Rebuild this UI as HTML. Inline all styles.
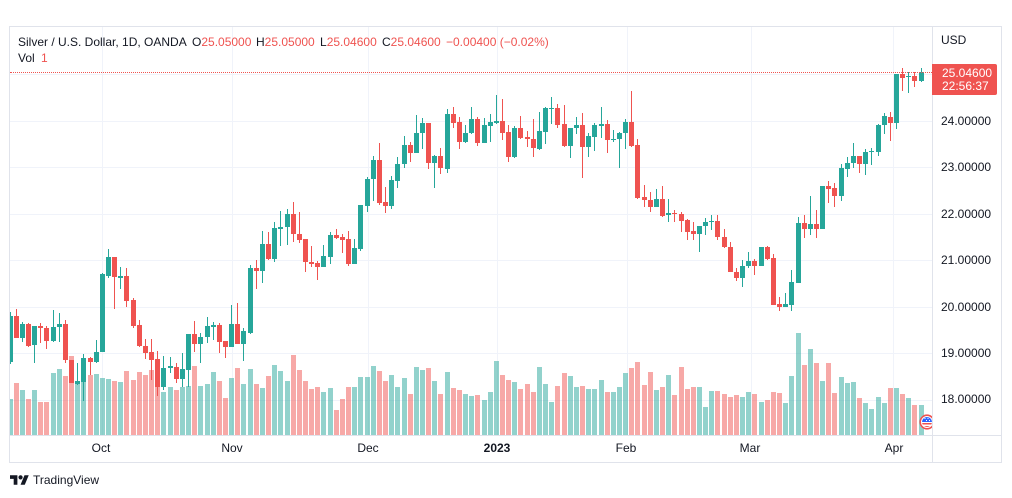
<!DOCTYPE html>
<html><head><meta charset="utf-8">
<style>
*{margin:0;padding:0}
body{width:1012px;height:498px;background:#fff;position:relative;overflow:hidden;font-family:"Liberation Sans",sans-serif;color:#131722;font-size:12px}
.frame{position:absolute;left:9px;top:26px;width:993px;height:437px;box-sizing:border-box;border:1px solid #e0e3eb}
.vsep{position:absolute;left:932px;top:27px;width:1px;height:435px;background:#e0e3eb}
.hsep{position:absolute;left:10px;top:435px;width:991px;height:1px;background:#e0e3eb}
.plot{position:absolute;left:10px;top:27px;width:922px;height:408px;overflow:hidden}
.gh{position:absolute;left:0;width:922px;height:1px;background:#f0f3fa}
.gv{position:absolute;top:0;width:1px;height:408px;background:#f0f3fa}
.bars{position:absolute;left:-3.085px;top:0;height:408px;display:flex}
.bars i{position:relative;flex:0 0 6.17px;width:6.17px;height:408px;background-image:linear-gradient(var(--vc),var(--vc));background-repeat:no-repeat;background-position:center bottom;background-size:5px calc((435 - var(--v)) * 1px)}
.bars i::before{content:"";position:absolute;left:calc(50% - 0.5px);width:1px;top:calc((var(--h) - 27) * 1px);height:calc((var(--l) - var(--h)) * 1px);background:var(--c)}
.bars i::after{content:"";position:absolute;left:calc(50% - 2.5px);width:5px;top:calc((var(--t) - 27) * 1px);height:max(1px, calc((var(--b) - var(--t)) * 1px));background:var(--c)}
.T{--c:#26a69a;--vc:rgba(38,166,154,.5)}
.R{--c:#ef5350;--vc:rgba(239,83,80,.5)}
.dot{position:absolute;left:0;top:45px;width:922px;height:0;border-top:1px dotted #ef5350}
.leg{position:absolute;left:18px;white-space:nowrap;line-height:16px;font-size:12px}
.red{color:#ef5350}
.pl{position:absolute;left:941px;line-height:14px;font-size:12px;color:#131722}
.tl{position:absolute;top:441px;width:60px;text-align:center;line-height:14px;font-size:12px;color:#131722}
.pbox{position:absolute;left:932px;top:64px;width:65px;height:31px;background:#ef5350;border-radius:0 2px 2px 0;color:#fff;font-size:12px;line-height:13.4px;box-sizing:border-box;padding:3px 0 0 10px}
</style></head><body>
<div class="frame"></div>
<div class="plot">
<div class="gh" style="top:47px"></div>
<div class="gh" style="top:94px"></div>
<div class="gh" style="top:140px"></div>
<div class="gh" style="top:187px"></div>
<div class="gh" style="top:233px"></div>
<div class="gh" style="top:280px"></div>
<div class="gh" style="top:326px"></div>
<div class="gh" style="top:373px"></div>
<div class="gv" style="left:92px"></div>
<div class="gv" style="left:222px"></div>
<div class="gv" style="left:358px"></div>
<div class="gv" style="left:487px"></div>
<div class="gv" style="left:617px"></div>
<div class="gv" style="left:741px"></div>
<div class="gv" style="left:883px"></div>
<div class="bars">
<i class=T style="--t:316;--b:362;--h:312;--l:364;--v:399"></i>
<i class=R style="--t:316;--b:338;--h:309;--l:338;--v:383"></i>
<i class=T style="--t:324;--b:338;--h:322;--l:342;--v:390"></i>
<i class=R style="--t:324;--b:346;--h:323;--l:347;--v:399"></i>
<i class=T style="--t:326;--b:345;--h:326;--l:363;--v:390"></i>
<i class=R style="--t:325.7;--b:328.3;--h:323;--l:343;--v:402"></i>
<i class=R style="--t:327.7;--b:340.7;--h:326;--l:349;--v:402"></i>
<i class=T style="--t:327;--b:340.7;--h:310;--l:341.7;--v:373"></i>
<i class=T style="--t:324.3;--b:327.3;--h:313.3;--l:341.7;--v:369"></i>
<i class=R style="--t:324;--b:360;--h:320;--l:363;--v:376"></i>
<i class=R style="--t:360;--b:383.3;--h:360;--l:383.3;--v:356"></i>
<i class=T style="--t:381;--b:384;--h:362.7;--l:385;--v:384"></i>
<i class=T style="--t:358.3;--b:381.7;--h:354;--l:401;--v:365"></i>
<i class=R style="--t:358.3;--b:361.7;--h:356.7;--l:375;--v:375"></i>
<i class=T style="--t:352.3;--b:361.7;--h:340;--l:363.3;--v:374"></i>
<i class=T style="--t:274;--b:352.3;--h:273;--l:352.3;--v:378"></i>
<i class=T style="--t:257.3;--b:276;--h:249.3;--l:277.7;--v:379"></i>
<i class=R style="--t:257.3;--b:277.3;--h:257.3;--l:309.3;--v:381"></i>
<i class=T style="--t:276;--b:277.7;--h:266.7;--l:289.3;--v:382"></i>
<i class=R style="--t:276;--b:300.7;--h:268.3;--l:306.7;--v:371"></i>
<i class=R style="--t:300;--b:326;--h:298;--l:328;--v:380"></i>
<i class=R style="--t:325;--b:346;--h:320;--l:347.3;--v:372"></i>
<i class=R style="--t:346;--b:352.7;--h:339;--l:359.3;--v:375"></i>
<i class=R style="--t:352.3;--b:360;--h:339.3;--l:380;--v:370"></i>
<i class=R style="--t:359.3;--b:387.3;--h:350.7;--l:396;--v:375"></i>
<i class=T style="--t:368.3;--b:387.3;--h:356;--l:390;--v:392"></i>
<i class=T style="--t:366;--b:368.3;--h:357.3;--l:373.3;--v:387"></i>
<i class=R style="--t:366.7;--b:379.3;--h:362.7;--l:382.7;--v:390"></i>
<i class=T style="--t:369.3;--b:379.3;--h:353.3;--l:386.7;--v:387"></i>
<i class=T style="--t:334;--b:370;--h:334;--l:386.7;--v:386"></i>
<i class=R style="--t:334;--b:344;--h:321;--l:351.7;--v:366"></i>
<i class=T style="--t:337.3;--b:344;--h:333.3;--l:362.7;--v:386"></i>
<i class=T style="--t:326;--b:337.3;--h:317.3;--l:342.7;--v:384"></i>
<i class=T style="--t:325;--b:326.7;--h:321.7;--l:340;--v:372"></i>
<i class=R style="--t:325;--b:341.7;--h:323.3;--l:352.7;--v:381"></i>
<i class=R style="--t:341;--b:346.7;--h:341;--l:357.7;--v:398"></i>
<i class=T style="--t:324;--b:346.7;--h:305;--l:346.7;--v:378"></i>
<i class=R style="--t:324;--b:344;--h:303.3;--l:344;--v:368"></i>
<i class=T style="--t:330.7;--b:344;--h:328.3;--l:360.7;--v:384"></i>
<i class=T style="--t:268.3;--b:332.7;--h:265;--l:334;--v:369"></i>
<i class=R style="--t:268.3;--b:270.7;--h:260;--l:288.7;--v:384"></i>
<i class=T style="--t:244;--b:270.7;--h:231;--l:283.3;--v:388"></i>
<i class=R style="--t:244;--b:259.3;--h:232;--l:260;--v:376"></i>
<i class=T style="--t:228.3;--b:259.3;--h:222.3;--l:261.7;--v:365"></i>
<i class=T style="--t:227.3;--b:229;--h:211;--l:246;--v:371"></i>
<i class=T style="--t:214;--b:227.3;--h:209.3;--l:245;--v:381"></i>
<i class=R style="--t:214;--b:234.3;--h:201.7;--l:241.7;--v:355"></i>
<i class=R style="--t:234;--b:240;--h:211.7;--l:242.7;--v:370"></i>
<i class=R style="--t:239;--b:262.3;--h:239;--l:271.7;--v:381"></i>
<i class=R style="--t:262;--b:263.5;--h:246;--l:267.3;--v:389"></i>
<i class=R style="--t:263;--b:267.3;--h:260.7;--l:280;--v:387"></i>
<i class=T style="--t:256;--b:267.3;--h:245;--l:267.3;--v:392"></i>
<i class=T style="--t:235;--b:256.7;--h:231.7;--l:264;--v:388"></i>
<i class=R style="--t:235;--b:237.7;--h:229.3;--l:239.3;--v:410"></i>
<i class=R style="--t:237.3;--b:240;--h:234;--l:253.3;--v:399"></i>
<i class=R style="--t:239.3;--b:264.3;--h:231.3;--l:265.7;--v:387"></i>
<i class=T style="--t:248.3;--b:263.7;--h:239.3;--l:264.3;--v:387"></i>
<i class=T style="--t:205;--b:249;--h:205;--l:250.7;--v:377"></i>
<i class=T style="--t:179;--b:205.7;--h:177.3;--l:211.7;--v:377"></i>
<i class=T style="--t:160;--b:179.3;--h:156;--l:201;--v:366"></i>
<i class=R style="--t:160;--b:202.7;--h:143.3;--l:205;--v:371"></i>
<i class=R style="--t:202.3;--b:205.7;--h:186.7;--l:212.7;--v:381"></i>
<i class=T style="--t:180;--b:205.7;--h:176;--l:209;--v:375"></i>
<i class=T style="--t:164;--b:180.7;--h:157.3;--l:187.7;--v:387"></i>
<i class=T style="--t:145;--b:164;--h:136;--l:168.3;--v:378"></i>
<i class=R style="--t:145;--b:153.3;--h:142;--l:162;--v:394"></i>
<i class=T style="--t:133.3;--b:153.3;--h:115;--l:153.3;--v:367"></i>
<i class=T style="--t:122.7;--b:133.3;--h:118.3;--l:148.7;--v:370"></i>
<i class=R style="--t:122.7;--b:163.3;--h:122.7;--l:168.7;--v:368"></i>
<i class=T style="--t:156;--b:163.3;--h:155;--l:187.7;--v:381"></i>
<i class=R style="--t:156;--b:168.3;--h:148.3;--l:174.3;--v:394"></i>
<i class=T style="--t:114;--b:169;--h:109.3;--l:172.7;--v:372"></i>
<i class=R style="--t:114;--b:122.7;--h:106.7;--l:128.3;--v:388"></i>
<i class=R style="--t:122.3;--b:141.7;--h:117.3;--l:149.3;--v:390"></i>
<i class=T style="--t:133.3;--b:141.7;--h:125;--l:143.3;--v:394"></i>
<i class=T style="--t:119;--b:133.3;--h:107.3;--l:134.3;--v:396"></i>
<i class=R style="--t:119;--b:142.7;--h:117.3;--l:145.7;--v:395"></i>
<i class=T style="--t:125;--b:142.7;--h:118.3;--l:142.7;--v:400"></i>
<i class=T style="--t:122.3;--b:125.7;--h:114.3;--l:142.3;--v:392"></i>
<i class=T style="--t:121;--b:122.7;--h:95;--l:124;--v:361"></i>
<i class=R style="--t:121;--b:132.7;--h:99;--l:140;--v:375"></i>
<i class=R style="--t:132;--b:156.7;--h:125;--l:161.7;--v:380"></i>
<i class=T style="--t:127.7;--b:156.7;--h:125.7;--l:157.7;--v:382"></i>
<i class=R style="--t:127.7;--b:137.7;--h:116;--l:139.3;--v:389"></i>
<i class=R style="--t:136.7;--b:139.3;--h:131;--l:146.7;--v:384"></i>
<i class=R style="--t:139;--b:148.3;--h:119;--l:156.7;--v:392"></i>
<i class=T style="--t:131;--b:149;--h:112.3;--l:150;--v:367"></i>
<i class=T style="--t:107.7;--b:131.7;--h:106.7;--l:144.3;--v:384"></i>
<i class=T style="--t:107.7;--b:109;--h:97;--l:124.3;--v:402"></i>
<i class=R style="--t:107.7;--b:125;--h:104.3;--l:128.3;--v:386"></i>
<i class=R style="--t:124.3;--b:146;--h:105;--l:147.3;--v:373"></i>
<i class=T style="--t:127.7;--b:146;--h:127.7;--l:158.3;--v:376"></i>
<i class=T style="--t:125;--b:128.3;--h:117.3;--l:134.3;--v:387"></i>
<i class=R style="--t:125;--b:146.7;--h:113.3;--l:177.7;--v:386"></i>
<i class=T style="--t:136;--b:146.7;--h:133.3;--l:156.7;--v:389"></i>
<i class=T style="--t:125;--b:136.7;--h:123.3;--l:151;--v:389"></i>
<i class=T style="--t:124.3;--b:125.7;--h:107;--l:138.3;--v:380"></i>
<i class=R style="--t:124;--b:140;--h:120;--l:153.3;--v:392"></i>
<i class=T style="--t:139;--b:140;--h:130;--l:141.7;--v:392"></i>
<i class=T style="--t:133.3;--b:139.3;--h:132.3;--l:167.7;--v:387"></i>
<i class=T style="--t:122.3;--b:133.3;--h:119;--l:149.3;--v:373"></i>
<i class=R style="--t:122.3;--b:146;--h:91;--l:147;--v:368"></i>
<i class=R style="--t:145;--b:197.7;--h:139.3;--l:199.3;--v:362"></i>
<i class=R style="--t:197.3;--b:200.3;--h:185;--l:206.7;--v:385"></i>
<i class=R style="--t:200;--b:206.7;--h:192.3;--l:211.7;--v:372"></i>
<i class=T style="--t:199;--b:206.7;--h:189.3;--l:206.7;--v:390"></i>
<i class=R style="--t:199;--b:215.7;--h:185.7;--l:217.3;--v:387"></i>
<i class=T style="--t:213;--b:215;--h:199.3;--l:221.7;--v:375"></i>
<i class=R style="--t:213;--b:214.3;--h:210.3;--l:222.3;--v:395"></i>
<i class=R style="--t:214;--b:221;--h:212.3;--l:231.7;--v:367"></i>
<i class=R style="--t:220;--b:231.7;--h:219.3;--l:240;--v:389"></i>
<i class=R style="--t:231;--b:233.7;--h:221.7;--l:240;--v:387"></i>
<i class=T style="--t:226.3;--b:233.7;--h:225.7;--l:251.7;--v:387"></i>
<i class=T style="--t:222.3;--b:226.3;--h:218.3;--l:235;--v:407"></i>
<i class=T style="--t:221;--b:222.3;--h:215;--l:230;--v:391"></i>
<i class=R style="--t:221;--b:236.7;--h:215;--l:240;--v:391"></i>
<i class=R style="--t:236.7;--b:246.7;--h:229;--l:247.7;--v:394"></i>
<i class=R style="--t:246.7;--b:271.7;--h:242.3;--l:271.7;--v:397"></i>
<i class=R style="--t:271.7;--b:277.7;--h:267.7;--l:280.7;--v:395"></i>
<i class=T style="--t:265.7;--b:277.7;--h:260;--l:286.7;--v:397"></i>
<i class=T style="--t:261;--b:265.7;--h:252.3;--l:267.7;--v:392"></i>
<i class=R style="--t:261;--b:265.7;--h:259;--l:275;--v:394"></i>
<i class=T style="--t:247.3;--b:265.7;--h:247.3;--l:266;--v:402"></i>
<i class=R style="--t:247.3;--b:259;--h:246;--l:260;--v:400"></i>
<i class=R style="--t:258.3;--b:305;--h:254;--l:305;--v:392"></i>
<i class=R style="--t:304.3;--b:306.7;--h:296.7;--l:310.7;--v:393"></i>
<i class=T style="--t:304.3;--b:306.7;--h:293.3;--l:307.3;--v:403"></i>
<i class=T style="--t:282.3;--b:305;--h:270;--l:310.7;--v:376"></i>
<i class=T style="--t:223.3;--b:282.7;--h:217.3;--l:282.7;--v:333"></i>
<i class=R style="--t:223.3;--b:229;--h:215;--l:237.7;--v:365"></i>
<i class=T style="--t:224;--b:229;--h:196;--l:235;--v:349"></i>
<i class=R style="--t:224;--b:229;--h:210;--l:237.7;--v:363"></i>
<i class=T style="--t:186;--b:229;--h:186;--l:229;--v:381"></i>
<i class=R style="--t:186;--b:188.7;--h:180.7;--l:202.7;--v:363"></i>
<i class=R style="--t:188;--b:196;--h:183.3;--l:206.7;--v:393"></i>
<i class=T style="--t:167.7;--b:196;--h:164;--l:200.7;--v:377"></i>
<i class=T style="--t:162.7;--b:169;--h:157.3;--l:177.3;--v:383"></i>
<i class=T style="--t:156;--b:163.3;--h:143.3;--l:168.3;--v:382"></i>
<i class=R style="--t:156;--b:164.3;--h:156;--l:173.3;--v:398"></i>
<i class=T style="--t:151.7;--b:164.3;--h:149.3;--l:175;--v:403"></i>
<i class=T style="--t:150.7;--b:152.3;--h:148.3;--l:165;--v:409"></i>
<i class=T style="--t:125;--b:151.7;--h:124;--l:156;--v:397"></i>
<i class=T style="--t:116;--b:125.3;--h:112.7;--l:134;--v:403"></i>
<i class=R style="--t:116.7;--b:122.7;--h:111.7;--l:140.7;--v:388"></i>
<i class=T style="--t:74;--b:122.7;--h:74;--l:128.7;--v:388"></i>
<i class=R style="--t:74;--b:77.7;--h:68.3;--l:90.7;--v:394"></i>
<i class=T style="--t:75.7;--b:77.3;--h:72;--l:93.3;--v:398"></i>
<i class=R style="--t:76;--b:80.7;--h:72;--l:86.7;--v:405"></i>
<i class=T style="--t:72.3;--b:80.7;--h:68.3;--l:82;--v:405"></i>
</div>
<div class="dot"></div>
<svg style="position:absolute;left:907px;top:385px" width="20" height="20" viewBox="0 0 20 20">
<circle cx="10" cy="10" r="6.8" fill="#fff" stroke="#ef5350" stroke-width="1.6"/>
<clipPath id="cc"><circle cx="10" cy="10" r="5"/></clipPath>
<g clip-path="url(#cc)">
<rect x="4" y="4" width="12" height="6" fill="#2962ff"/>
<rect x="4" y="11" width="12" height="1.5" fill="#ef5350"/>
<rect x="4" y="14" width="12" height="2" fill="#ef5350"/>
<circle cx="8" cy="6.5" r=".6" fill="#fff"/><circle cx="11" cy="6.5" r=".6" fill="#fff"/><circle cx="14" cy="6.5" r=".6" fill="#fff"/>
<circle cx="9.5" cy="8.5" r=".6" fill="#fff"/><circle cx="12.5" cy="8.5" r=".6" fill="#fff"/>
</g>
</svg>
</div>
<div class="vsep"></div>
<div class="hsep"></div>

<div class="leg" style="top:34px">Silver / U.S. Dollar, 1D, OANDA</div>
<div class="leg" style="top:34px;left:192px">O<span class="red">25.05000</span></div>
<div class="leg" style="top:34px;left:256px">H<span class="red">25.05000</span></div>
<div class="leg" style="top:34px;left:320px">L<span class="red">25.04600</span></div>
<div class="leg" style="top:34px;left:382px">C<span class="red">25.04600</span></div>
<div class="leg red" style="top:34px;left:446px">−0.00400 (−0.02%)</div>
<div class="leg" style="top:50px">Vol <span class="red" style="margin-left:3px">1</span></div>

<div class="pl" style="top:33px">USD</div>
<div class="pl" style="top:114px">24.00000</div>
<div class="pl" style="top:160px">23.00000</div>
<div class="pl" style="top:207px">22.00000</div>
<div class="pl" style="top:253px">21.00000</div>
<div class="pl" style="top:300px">20.00000</div>
<div class="pl" style="top:346px">19.00000</div>
<div class="pl" style="top:392px">18.00000</div>
<div class="pbox">25.04600<br>22:56:37</div>

<div class="tl" style="left:71px">Oct</div>
<div class="tl" style="left:202px">Nov</div>
<div class="tl" style="left:338px">Dec</div>
<div class="tl" style="left:467px;font-weight:bold">2023</div>
<div class="tl" style="left:596px">Feb</div>
<div class="tl" style="left:720px">Mar</div>
<div class="tl" style="left:864px">Apr</div>

<svg style="position:absolute;left:10px;top:473px" width="19" height="15" viewBox="0 0 36 28">
<path d="M14 22H7V11H0V4h14v18z" fill="#131722"/>
<circle cx="20" cy="8" r="4" fill="#131722"/>
<path d="M28 22h-8l7.5-18h8L28 22z" fill="#131722"/>
</svg>
<div style="position:absolute;left:33px;top:473px;line-height:14px;font-size:12px;color:#131722">TradingView</div>
</body></html>
